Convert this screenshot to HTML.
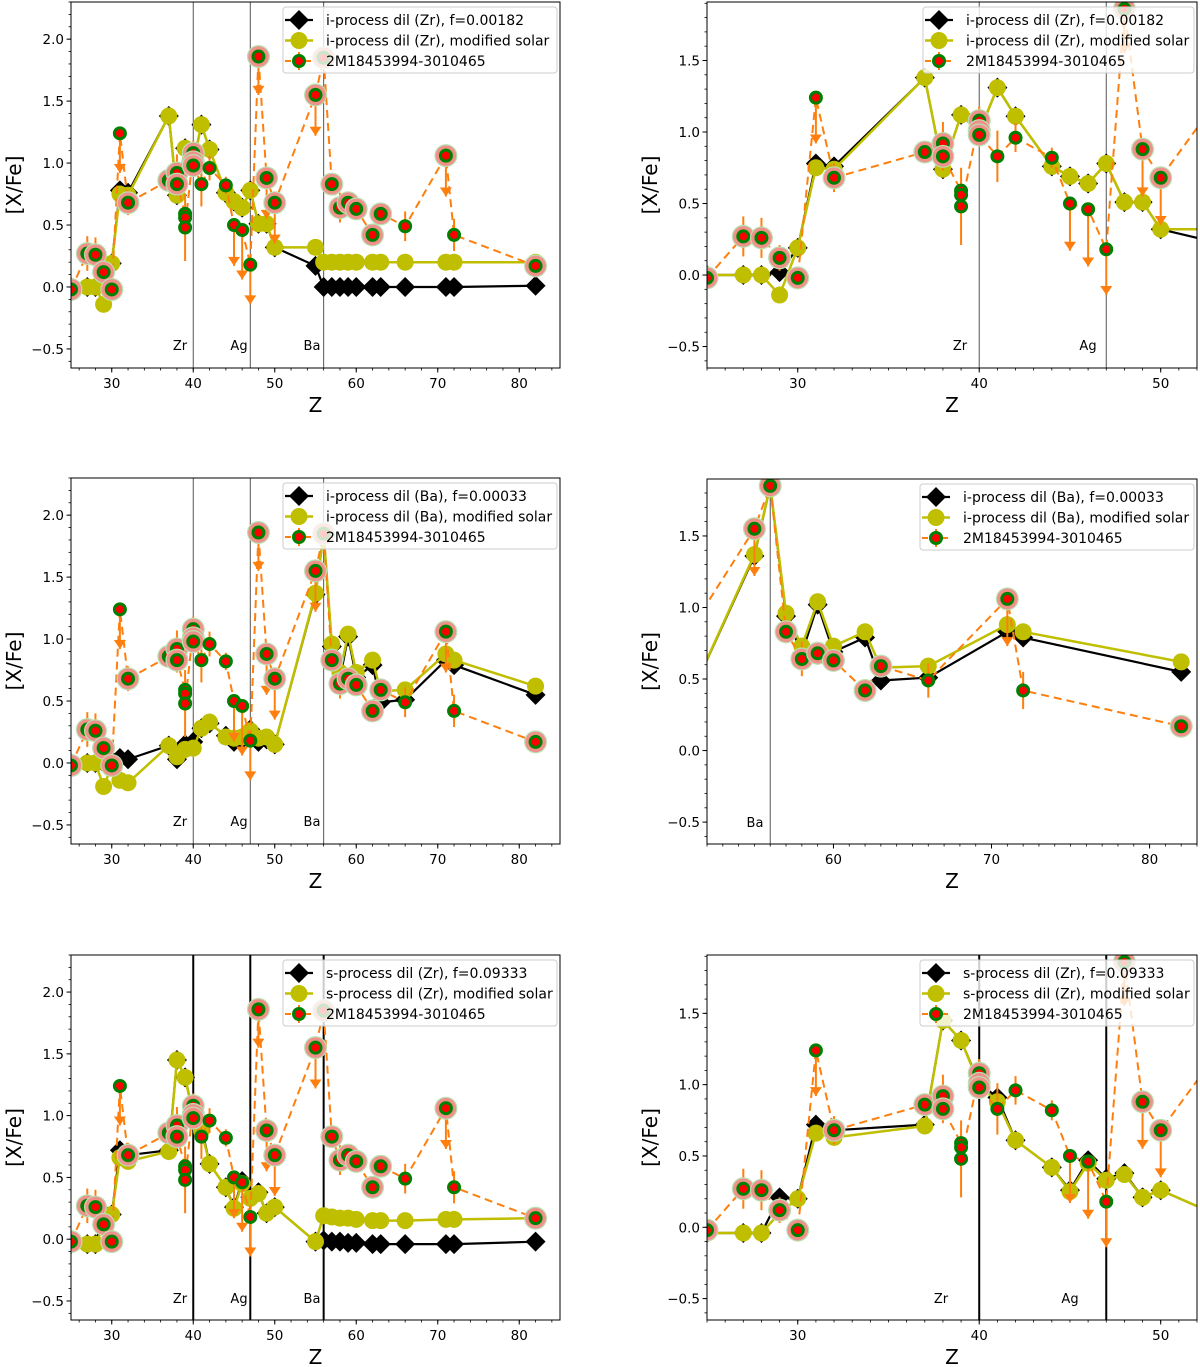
<!DOCTYPE html>
<html><head><meta charset="utf-8"><style>
html,body{margin:0;padding:0;background:#fff;}
svg{display:block;font-family:"DejaVu Sans","Liberation Sans",sans-serif;}
</style></head><body>
<svg id="fig" xmlns="http://www.w3.org/2000/svg" width="1200" height="1367" viewBox="0 0 1200 1367"></svg>
<script>
// ---- data ----
const obsZ = [25,27,28,29,30,31,32,37,38,38,39,39,39,40,40,40,41,42,44,45,46,47,48,49,50,55,56,57,58,59,60,62,63,66,71,72,82];
const obsV = [-0.02,0.27,0.26,0.12,-0.02,1.24,0.68,0.86,0.92,0.83,0.59,0.56,0.48,1.08,1.01,0.98,0.83,0.96,0.82,0.50,0.46,0.18,1.86,0.88,0.68,1.55,1.85,0.83,0.64,0.68,0.63,0.42,0.59,0.49,1.06,0.42,0.17];
const obsErr = [0.05,0.14,0.14,0.09,0.08,0,0.10,0.07,0.15,0.10,0,0,0.27,0.10,0.10,0.08,0.18,0.10,0.07,0,0,0,0,0,0,0,0.05,0.08,0.12,0.08,0.06,0.05,0.06,0.12,0,0.13,0.03];
const obsLim = [0,0,0,0,0,0.32,0,0,0,0,0,0,0,0,0,0,0,0,0,0.33,0.40,0.32,0.31,0.33,0.33,0.33,0,0,0,0,0,0,0,0,0.33,0,0];
const obsHalo = [1,1,1,1,1,0,1,1,1,1,0,0,0,1,1,1,0,0,0,0,0,0,1,1,1,1,1,1,1,1,1,1,1,0,1,0,1];

const modelZ = [25,27,28,29,30,31,32,37,38,39,40,41,42,44,45,46,47,48,49,50,55,56,57,58,59,60,62,63,66,71,72,82];
const zrIBlack = [0,0,0,0.02,0.19,0.78,0.76,1.38,0.74,1.12,1.0,1.31,1.11,0.76,0.69,0.64,0.78,0.51,0.51,0.32,0.17,0,0,0,0,0,0,0,0,0,0,0.01];
const zrIYellow = [0,0,0,-0.14,0.19,0.75,0.74,1.38,0.74,1.12,1.0,1.31,1.11,0.76,0.69,0.64,0.78,0.51,0.51,0.32,0.32,0.2,0.2,0.2,0.2,0.2,0.2,0.2,0.2,0.2,0.2,0.2];
const baIBlack = [0,0,0,0,0.02,0.04,0.03,0.14,0.03,0.15,0.17,0.28,0.32,0.22,0.17,0.19,0.27,0.17,0.19,0.15,1.36,1.85,0.94,0.68,1.02,0.69,0.79,0.49,0.51,0.83,0.79,0.55];
const baIYellow = [0,0,0,-0.19,-0.03,-0.14,-0.16,0.14,0.05,0.11,0.12,0.28,0.33,0.21,0.20,0.21,0.26,0.20,0.21,0.15,1.37,1.85,0.96,0.73,1.04,0.73,0.83,0.58,0.59,0.88,0.83,0.62];
const sZrBlack = [-0.04,-0.04,-0.04,0.21,0.20,0.72,0.68,0.72,1.45,1.31,1.01,0.91,0.61,0.42,0.26,0.47,0.34,0.38,0.21,0.26,-0.02,-0.01,-0.02,-0.02,-0.03,-0.03,-0.04,-0.04,-0.04,-0.04,-0.04,-0.02];
const sZrYellow = [-0.04,-0.04,-0.04,0.10,0.20,0.66,0.63,0.71,1.45,1.31,1.00,0.88,0.61,0.42,0.25,0.45,0.33,0.37,0.21,0.26,-0.02,0.19,0.18,0.17,0.17,0.16,0.15,0.15,0.15,0.16,0.16,0.17];

const legendSets = [
 ["i-process dil (Zr), f=0.00182","i-process dil (Zr), modified solar","2M18453994-3010465"],
 ["i-process dil (Ba), f=0.00033","i-process dil (Ba), modified solar","2M18453994-3010465"],
 ["s-process dil (Zr), f=0.09333","s-process dil (Zr), modified solar","2M18453994-3010465"]
];
const yTicksLeft = [-0.5,0.0,0.5,1.0,1.5,2.0];
const yTicksRight = [-0.5,0.0,0.5,1.0,1.5];
const xTicksLeft = [30,40,50,60,70,80];
const xTicksA = [30,40,50];
const xTicksB = [60,70,80];

const NS="http://www.w3.org/2000/svg";
const svg=document.getElementById('fig');
function mk(tag,attrs,parent){const e=document.createElementNS(NS,tag);for(const k in attrs)e.setAttribute(k,attrs[k]);(parent||svg).appendChild(e);return e;}

const panels=[
 {x0:71,x1:560,y0:2,y1:368,xd:[25,85],yd:[-0.654,2.30],xt:xTicksLeft,yt:yTicksLeft,xm:2,vl:[40,47,56],lab:[["Zr",180],["Ag",239],["Ba",312]],bk:zrIBlack,yl:zrIYellow,leg:0,lx:283,thick:false,name:'panel-i-zr-full'},
 {x0:707,x1:1197,y0:2,y1:368,xd:[25,52],yd:[-0.65,1.909],xt:xTicksA,yt:yTicksRight,xm:1,vl:[40,47],lab:[["Zr",960],["Ag",1088]],bk:zrIBlack,yl:zrIYellow,leg:0,lx:923,thick:false,name:'panel-i-zr-zoom'},
 {x0:71,x1:560,y0:478,y1:844,xd:[25,85],yd:[-0.654,2.30],xt:xTicksLeft,yt:yTicksLeft,xm:2,vl:[40,47,56],lab:[["Zr",180],["Ag",239],["Ba",312]],bk:baIBlack,yl:baIYellow,leg:1,lx:283,thick:false,name:'panel-i-ba-full'},
 {x0:707,x1:1197,y0:479,y1:844,xd:[52,83],yd:[-0.653,1.898],xt:xTicksB,yt:yTicksRight,xm:1,vl:[56],lab:[["Ba",755]],bk:baIBlack,yl:baIYellow,leg:1,lx:920,thick:false,name:'panel-i-ba-zoom'},
 {x0:71,x1:560,y0:955,y1:1320,xd:[25,85],yd:[-0.654,2.30],xt:xTicksLeft,yt:yTicksLeft,xm:2,vl:[40,47,56],lab:[["Zr",180],["Ag",239],["Ba",312]],bk:sZrBlack,yl:sZrYellow,leg:2,lx:283,thick:true,name:'panel-s-zr-full'},
 {x0:707,x1:1197,y0:955,y1:1320,xd:[25,52],yd:[-0.65,1.909],xt:xTicksA,yt:yTicksRight,xm:1,vl:[40,47],lab:[["Zr",941],["Ag",1070]],bk:sZrBlack,yl:sZrYellow,leg:2,lx:920,thick:true,name:'panel-s-zr-zoom'}
];

function diamond(g,cx,cy,r,fill){return mk('polygon',{points:`${cx},${cy-r} ${cx+r},${cy} ${cx},${cy+r} ${cx-r},${cy}`,fill:fill},g);}
function obsMarker(g,cx,cy,halo){
  if(halo){mk('circle',{cx:cx,cy:cy,r:11.5,fill:'#b8e0b0'},g);mk('circle',{cx:cx,cy:cy,r:10.3,fill:'#f0908a'},g);}
  mk('circle',{cx:cx,cy:cy,r:5.5,fill:'#ff0000',stroke:'#008000','stroke-width':3},g);
}

panels.forEach((p,pi)=>{
  const X=z=>p.x0+(z-p.xd[0])/(p.xd[1]-p.xd[0])*(p.x1-p.x0);
  const Y=v=>p.y1-(v-p.yd[0])/(p.yd[1]-p.yd[0])*(p.y1-p.y0);
  const g=mk('g',{});
  
  
  const cid='clip'+pi;
  const cp=mk('clipPath',{id:cid},g);mk('rect',{x:p.x0,y:p.y0,width:p.x1-p.x0,height:p.y1-p.y0},cp);
  const ax=mk('g',{},g);
  
  
  for(let v=Math.ceil(p.yd[0]*10)/10; v<=p.yd[1]; v=Math.round((v+0.1)*10)/10){mk('line',{x1:p.x0-2.5,x2:p.x0,y1:Y(v),y2:Y(v),stroke:'#000','stroke-width':0.8},ax);}
  for(let z=Math.ceil(p.xd[0]/p.xm)*p.xm; z<=p.xd[1]; z+=p.xm){mk('line',{x1:X(z),x2:X(z),y1:p.y1,y2:p.y1+2.5,stroke:'#000','stroke-width':0.8},ax);}
  p.yt.forEach(v=>{mk('line',{x1:p.x0-4.5,x2:p.x0,y1:Y(v),y2:Y(v),stroke:'#000','stroke-width':1},ax);
    const t=mk('text',{x:p.x0-7,y:Y(v)+5,'text-anchor':'end','font-size':13.5},ax);t.textContent=v.toFixed(1).replace('-','−');
    
    });
  p.xt.forEach(z=>{mk('line',{x1:X(z),x2:X(z),y1:p.y1,y2:p.y1+4.5,stroke:'#000','stroke-width':1},ax);
    const t=mk('text',{x:X(z),y:p.y1+20,'text-anchor':'middle','font-size':13.5},ax);t.textContent=z;
    
    });
  const yl=mk('text',{x:0,y:0,'text-anchor':'middle','font-size':20,transform:`translate(${p.x0-50},${(p.y0+p.y1)/2}) rotate(-90)`},ax);yl.textContent='[X/Fe]';
  
  
  const xl=mk('text',{x:(p.x0+p.x1)/2,y:p.y1+44,'text-anchor':'middle','font-size':20},ax);xl.textContent='Z';
  
  
  const pl=mk('g',{'clip-path':`url(#${cid})`},g);
  p.vl.forEach(z=>{mk('line',{x1:X(z),x2:X(z),y1:p.y0,y2:p.y1,stroke:p.thick?'#000':'#555','stroke-width':p.thick?2:1},pl);});
  p.lab.forEach(l=>{const t=mk('text',{x:l[1],y:p.y0+348,'text-anchor':'middle','font-size':13},pl);t.textContent=l[0];
    
    });
  const bp=modelZ.map((z,i)=>X(z)+','+Y(p.bk[i])).join(' ');
  const bl=mk('polyline',{points:bp,fill:'none',stroke:'#000','stroke-width':2.2},pl);
  
  
  modelZ.forEach((z,i)=>{const d=diamond(pl,X(z),Y(p.bk[i]),10,'#000');
    
    });
  const yp=modelZ.map((z,i)=>X(z)+','+Y(p.yl[i])).join(' ');
  const ylin=mk('polyline',{points:yp,fill:'none',stroke:'#bfbf00','stroke-width':2.5},pl);
  
  
  modelZ.forEach((z,i)=>{const c=mk('circle',{cx:X(z),cy:Y(p.yl[i]),r:8.5,fill:'#bfbf00'},pl);
    
    });
  const op=obsZ.map((z,i)=>X(z)+','+Y(obsV[i])).join(' ');
  const ol=mk('polyline',{points:op,fill:'none',stroke:'#ff7f0e','stroke-width':2,'stroke-dasharray':'8,5'},pl);
  
  
  obsZ.forEach((z,i)=>{
    const cx=X(z),cy=Y(obsV[i]);
    if(obsErr[i]>0){mk('line',{x1:cx,x2:cx,y1:Y(obsV[i]+obsErr[i]),y2:Y(obsV[i]-obsErr[i]),stroke:'#ff7f0e','stroke-width':2},pl);}
    if(obsLim[i]>0){const ye=Y(obsV[i]-obsLim[i]);
      mk('line',{x1:cx,x2:cx,y1:cy,y2:ye,stroke:'#ff7f0e','stroke-width':2},pl);
      mk('polygon',{points:`${cx-6},${ye-9} ${cx+6},${ye-9} ${cx},${ye}`,fill:'#ff7f0e'},pl);}
  });
  obsZ.forEach((z,i)=>{const gm=mk('g',{},pl);
    
    
    obsMarker(gm,X(z),Y(obsV[i]),obsHalo[i]);});
  mk('rect',{x:p.x0,y:p.y0,width:p.x1-p.x0,height:p.y1-p.y0,fill:'none',stroke:'#000','stroke-width':1},g);
  const lg=mk('g',{},g);
  
  
  const lw=(p.x1-3)-p.lx;
  mk('rect',{x:p.lx,y:p.y0+5,width:lw,height:66,rx:3,fill:'#fff','fill-opacity':0.8,stroke:'#ccc','stroke-width':1},lg);
  const hx=p.lx+14, tx=p.lx+43;
  const names=legendSets[p.leg];
  [18,38.5,59].forEach((dy,k)=>{
    const yy=p.y0+dy;
    const e=mk('g',{},lg);
    
    
    if(k===0){mk('line',{x1:hx-12,x2:hx+16,y1:yy,y2:yy,stroke:'#000','stroke-width':2.2},e);diamond(e,hx+2,yy,10,'#000');}
    if(k===1){mk('line',{x1:hx-12,x2:hx+16,y1:yy,y2:yy,stroke:'#bfbf00','stroke-width':2.5},e);mk('circle',{cx:hx+2,cy:yy,r:8.5,fill:'#bfbf00'},e);}
    if(k===2){mk('line',{x1:hx-12,x2:hx+16,y1:yy,y2:yy,stroke:'#ff7f0e','stroke-width':2,'stroke-dasharray':'6,4'},e);
      mk('line',{x1:hx+2,x2:hx+2,y1:yy-9,y2:yy+9,stroke:'#ff7f0e','stroke-width':2},e);obsMarker(e,hx+2,yy,false);}
    const t=mk('text',{x:tx,y:yy+5,'font-size':14},e);t.textContent=names[k];
  });
});
</script>
</body></html>
